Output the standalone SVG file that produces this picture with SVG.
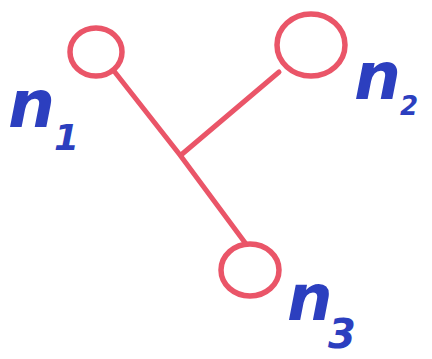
<svg xmlns="http://www.w3.org/2000/svg" width="432" height="359" viewBox="0 0 432 359">
<style>
.node{fill:none;stroke:#ea5568;stroke-width:5.5}
.edge{fill:none;stroke:#ea5568;stroke-width:5;stroke-linecap:round}
.lbl{fill:#2c3fbf;font-family:"DejaVu Sans",sans-serif;font-weight:bold;font-style:italic}
</style>
<rect width="432" height="359" fill="#ffffff"/>
<g id="connectors">
<path class="edge" d="M114 71 L180 155 L246 244"/>
<path class="edge" d="M181 155 L279 72"/>
</g>
<g id="n1">
<ellipse class="node" cx="96" cy="52" rx="26" ry="24"/>
<text class="lbl" x="8" y="127" font-size="66">n<tspan x="54" y="150" font-size="36">1</tspan></text>
</g>
<g id="n2">
<ellipse class="node" cx="311" cy="45" rx="34" ry="31"/>
<text class="lbl" x="354" y="99" font-size="66">n<tspan x="400" y="115" font-size="26">2</tspan></text>
</g>
<g id="n3">
<ellipse class="node" cx="250" cy="270" rx="29" ry="26"/>
<text class="lbl" x="287" y="320" font-size="64">n<tspan x="328" y="348" font-size="40">3</tspan></text>
</g>
</svg>
